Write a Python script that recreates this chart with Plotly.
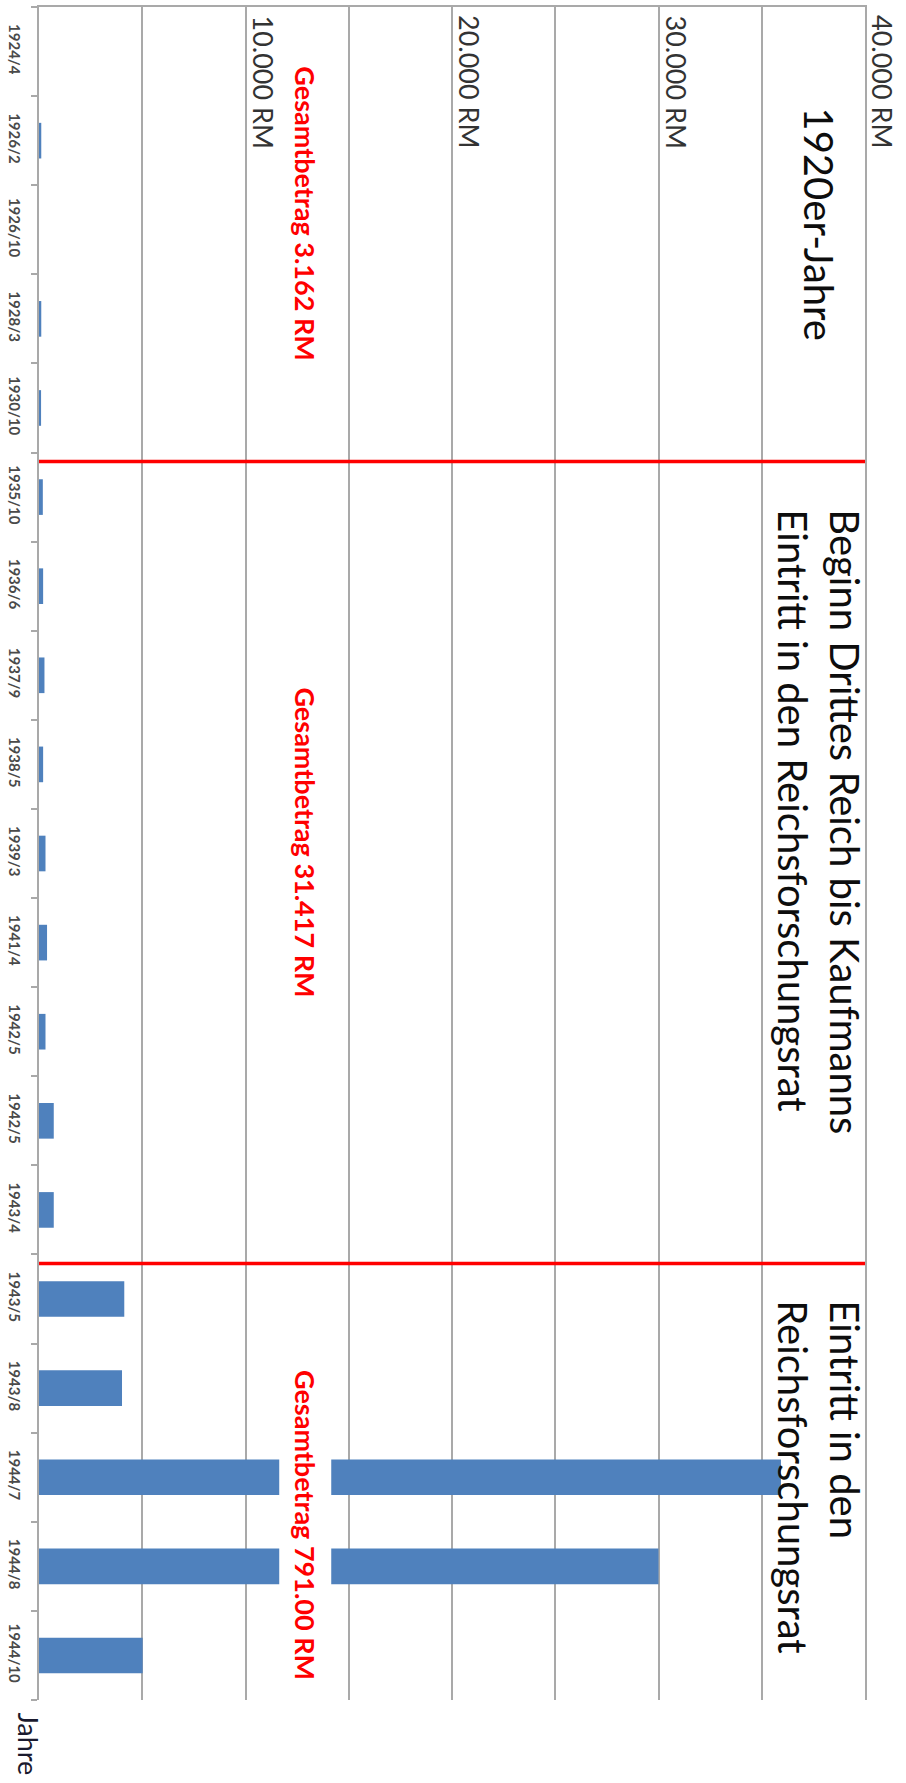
import plotly.graph_objects as go

# Payment dates (one bar each) and amounts in Reichsmark
dates = ["1924/4", "1926/2", "1926/10", "1928/3", "1930/10",
         "1935/10", "1936/6", "1937/9", "1938/5", "1939/3", "1941/4",
         "1942/5", "1942/5", "1943/4",
         "1943/5", "1943/8", "1944/7", "1944/8", "1944/10"]
amounts_rm = [0, 110, 0, 110, 100,
              185, 200, 265, 200, 315, 390, 315, 715, 715,
              4130, 4020, 35930, 30000, 5020]

# Periods: number of dates in each, heading and total
period_sizes = [5, 9, 5]
period_titles = ["1920er-Jahre",
                 "Beginn Drittes Reich bis Kaufmanns<br>Eintritt in den Reichsforschungsrat",
                 "Eintritt in den<br>Reichsforschungsrat"]
period_totals = ["Gesamtbetrag 3.162 RM", "Gesamtbetrag 31.417 RM", "Gesamtbetrag 791.00 RM"]

value_ticks = [10000, 20000, 30000, 40000]
value_tick_labels = ["10.000 RM", "20.000 RM", "30.000 RM", "40.000 RM"]

BAR = "#4F81BD"
GRID = "#a9a9a9"
FONT = "Lato"
VMAX = 40000

pos = list(range(len(dates)))

fig = go.Figure(go.Bar(
    x=amounts_rm, y=pos, orientation="h",
    marker=dict(color=BAR, line=dict(width=0)),
    width=0.4, hoverinfo="skip",
))

# Period separators, just past the last bar of each period
shapes = []
start = 0
for size in period_sizes[:-1]:
    start += size
    sep = start - 0.4
    shapes.append(dict(type="line", xref="x", yref="y", x0=0, x1=VMAX, y0=sep, y1=sep,
                       line=dict(color="#ff0000", width=3.5), layer="above"))

annotations = []

# Period headings and totals
title_y = [1.94, 8.65, 16.0]
total_y = [1.82, 8.88, 16.54]
for t, ty, tot, toty in zip(period_titles, title_y, period_totals, total_y):
    annotations.append(dict(text=t, x=37770, y=ty, xref="x", yref="y",
                            textangle=90, showarrow=False, align="left",
                            xanchor="center", yanchor="middle",
                            font=dict(family=FONT, size=40, color="#0d0d0d")))
    annotations.append(dict(text=f"<b>{tot}</b>", x=12900, y=toty, xref="x", yref="y",
                            textangle=90, showarrow=False,
                            xanchor="center", yanchor="middle",
                            bgcolor="white", borderpad=9,
                            font=dict(family=FONT, size=27, color="#ff0000")))

# Value labels just right of their gridlines
for v, lab in zip(value_ticks, value_tick_labels):
    annotations.append(dict(text=lab, x=v, y=1 - 75 / 1693, xref="x", yref="paper",
                            xshift=17, textangle=90, showarrow=False,
                            xanchor="center", yanchor="middle",
                            font=dict(family=FONT, size=27, color="#333333")))

# Category axis title
annotations.append(dict(text="Jahre", x=-0.0133, y=-0.0257, xref="paper", yref="paper",
                        textangle=90, showarrow=False, xanchor="center", yanchor="middle",
                        font=dict(family=FONT, size=27, color="#1a1a2e")))

fig.update_layout(
    width=906, height=1783,
    margin=dict(l=39, r=41, t=7, b=83),
    paper_bgcolor="white", plot_bgcolor="white",
    showlegend=False,
    shapes=shapes, annotations=annotations,
    bargap=0.6,
)
fig.update_xaxes(
    range=[0, VMAX], dtick=5000, tick0=0, side="top",
    showgrid=True, gridcolor=GRID, gridwidth=1.5,
    showline=True, linecolor=GRID, linewidth=1.5,
    showticklabels=False, ticks="", zeroline=False, fixedrange=True,
)
fig.update_yaxes(
    range=[len(dates) - 0.5, -0.5],
    tickmode="array", tickvals=pos, ticktext=dates,
    tickangle=90, ticks="", ticklabelstandoff=10,
    tickfont=dict(family=FONT, size=15, color="#4a4a4a", weight="bold"),
    minor=dict(tickmode="array", tickvals=[p - 0.5 for p in pos] + [len(dates) - 0.5],
               ticks="outside", ticklen=6, tickcolor=GRID, tickwidth=1.5),
    showline=True, linecolor=GRID, linewidth=1.5, mirror=True,
    showgrid=False, zeroline=False, fixedrange=True,
)

fig.write_html("out.html")
